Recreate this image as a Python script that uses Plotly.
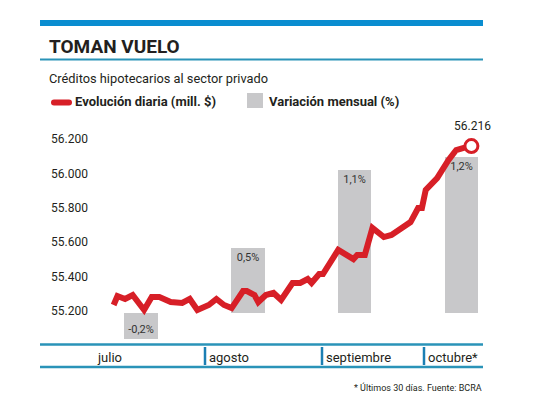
import plotly.graph_objects as go

# ---------------- data ----------------
days = [7, 8, 10, 12, 15, 17, 19, 22, 25, 27, 29, 32, 34, 36, 38, 41, 42, 44, 45, 47,
        49, 51, 54, 56, 58, 59, 61, 62, 66, 67, 70, 71, 73, 75, 78, 80, 83, 85, 87, 88,
        89, 91, 92, 95, 97, 99, 101]
values = [55235, 55287, 55270, 55293, 55206, 55281, 55281, 55252, 55247, 55270, 55206,
          55235, 55270, 55235, 55217, 55316, 55316, 55293, 55252, 55293, 55305, 55264,
          55363, 55363, 55386, 55363, 55415, 55415, 55555, 55543, 55502, 55526, 55526,
          55683, 55630, 55642, 55683, 55717, 55799, 55799, 55904, 55944, 55973, 56078,
          56136, 56148, 56159]
last_label = "56.216"

months = ["julio", "agosto", "septiembre", "octubre*"]
month_centers = [14.2, 42.3, 70.3, 98.4]
monthly_pct = [-0.2, 0.5, 1.1, 1.2]

y_ticks = [55200, 55400, 55600, 55800, 56000, 56200]

# ---------------- styling / layout helpers ----------------
W, H = 540, 405
L, R, T, B = 40, 483, 130, 345
RED = "#d71f27"
GRAY = "#c8c8ca"
BLUE = "#0a8dd0"
TEAL = "#2a93b8"
TXT = "#231f20"
FONT = "Roboto"


def PX(x):
    return (x - L) / (R - L)


def PY(y):
    return (B - y) / (B - T)


fig = go.Figure()

fig.add_trace(go.Bar(
    x=month_centers, y=monthly_pct, width=8.7,
    marker=dict(color=GRAY, line=dict(width=0)),
    text=monthly_pct, texttemplate="%{y:.1f}%",
    textposition="inside", insidetextanchor="end", textangle=0,
    insidetextfont=dict(family=FONT, size=11, color="#333333"),
    constraintext="none", cliponaxis=False,
    yaxis="y", hoverinfo="skip", showlegend=False,
))

fig.add_trace(go.Scatter(
    x=days, y=values, mode="lines",
    line=dict(color=RED, width=6),
    yaxis="y2", showlegend=False, cliponaxis=False,
))

fig.add_trace(go.Scatter(
    x=[days[-1]], y=[values[-1]], mode="markers",
    marker=dict(symbol="circle", size=13, color="white", line=dict(color=RED, width=3)),
    yaxis="y2", showlegend=False, cliponaxis=False,
))

shapes = []
# top blue band
shapes.append(dict(type="rect", xref="paper", yref="paper",
                   x0=PX(40), x1=PX(483), y0=PY(26), y1=PY(20),
                   fillcolor=BLUE, line=dict(width=0)))
# title underline
shapes.append(dict(type="line", xref="paper", yref="paper",
                   x0=PX(40), x1=PX(483), y0=PY(59.5), y1=PY(59.5),
                   line=dict(color=TEAL, width=2)))
# bottom month band lines
for yy in (344.5, 367):
    shapes.append(dict(type="line", xref="paper", yref="paper",
                       x0=PX(40), x1=PX(483), y0=PY(yy), y1=PY(yy),
                       line=dict(color=TEAL, width=2.5)))
# month separators
for xx in (205, 322, 424):
    shapes.append(dict(type="line", xref="paper", yref="paper",
                       x0=PX(xx), x1=PX(xx), y0=PY(347), y1=PY(365),
                       line=dict(color="#1b7fb3", width=2.5)))
# legend pill (red)
path = (f"M {PX(54)},{PY(99.5)} L {PX(69)},{PY(99.5)} "
        f"Q {PX(72)},{PY(99.5)} {PX(72)},{PY(102.5)} "
        f"Q {PX(72)},{PY(105.5)} {PX(69)},{PY(105.5)} "
        f"L {PX(54)},{PY(105.5)} "
        f"Q {PX(51)},{PY(105.5)} {PX(51)},{PY(102.5)} "
        f"Q {PX(51)},{PY(99.5)} {PX(54)},{PY(99.5)} Z")
shapes.append(dict(type="path", xref="paper", yref="paper", path=path,
                   fillcolor=RED, line=dict(width=0)))
# legend gray square
shapes.append(dict(type="rect", xref="paper", yref="paper",
                   x0=PX(247), x1=PX(263), y0=PY(108), y1=PY(93),
                   fillcolor=GRAY, line=dict(width=0)))

ann = []


def text(x, y, s, size, bold=False, xanchor="left", color=TXT):
    ann.append(dict(xref="paper", yref="paper", x=PX(x), y=PY(y),
                    text=f"<b>{s}</b>" if bold else s, showarrow=False,
                    xanchor=xanchor, yanchor="middle",
                    font=dict(family=FONT, size=size, color=color)))


text(47, 47, "TOMAN VUELO", 19, bold=True)
text(47, 78, "Créditos hipotecarios al sector privado", 12.8)
text(73, 102, "Evolución diaria (mill. $)", 13, bold=True)
text(267, 102, "Variación mensual (%)", 13, bold=True)
text(472, 126, last_label, 12, xanchor="center")
month_x = [(109, "center"), (207, "left"), (324, "left"), (426, "left")]
for (mx, anc), name in zip(month_x, months):
    text(mx, 357, name, 13, xanchor=anc)
text(484, 387, "* Últimos 30 días. Fuente: BCRA", 9, xanchor="right")

fig.update_layout(
    width=W, height=H,
    margin=dict(l=L, r=W - R, t=T, b=H - B, autoexpand=False),
    paper_bgcolor="white", plot_bgcolor="white",
    separators=",.",
    shapes=shapes, annotations=ann,
    xaxis=dict(range=[(L - 87) / 3.806, (R - 87) / 3.806], visible=False,
               fixedrange=True),
    yaxis=dict(range=[(313 - B) / 130, (313 - T) / 130], visible=False,
               fixedrange=True),
    yaxis2=dict(range=[55200 - (B - 311) * 5.814, 55200 + (311 - T) * 5.814],
                overlaying="y", anchor="free", position=PX(88), side="left",
                tickvals=y_ticks, tickformat=",d", showgrid=False,
                zeroline=False, showline=False, ticks="",
                tickfont=dict(family=FONT, size=12, color=TXT),
                fixedrange=True),
    showlegend=False,
    bargap=0,
)

fig.write_html("out.html", config={"displayModeBar": False})
